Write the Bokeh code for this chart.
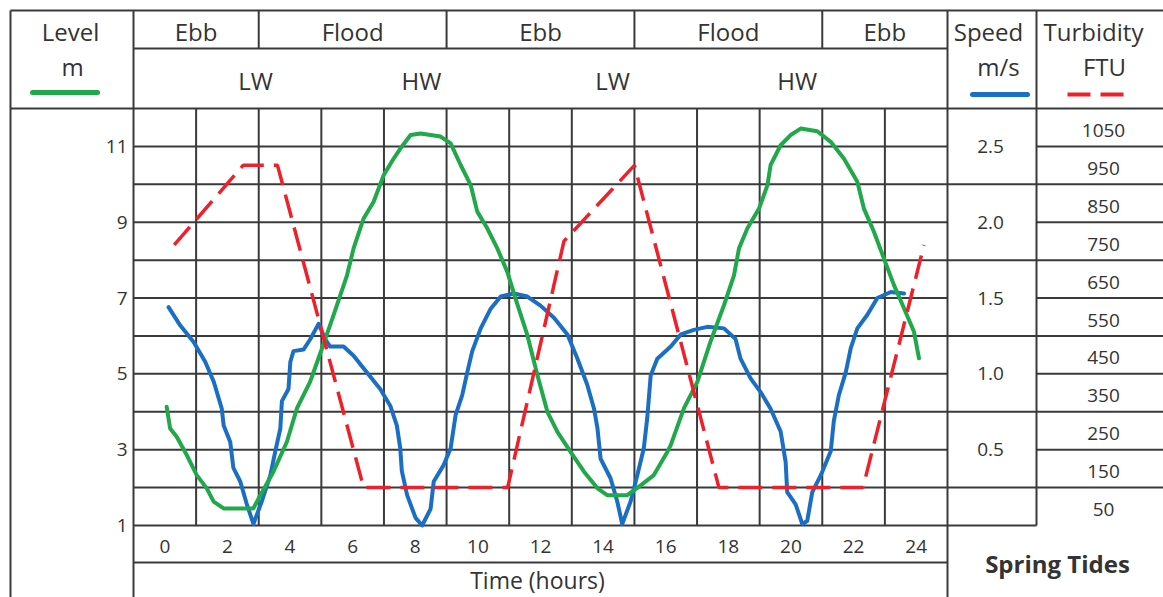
import numpy as np
from bokeh.plotting import figure
from bokeh.models import Range1d, ColumnDataSource
from bokeh.core.properties import value
from bokeh.embed import file_html
from bokeh.resources import INLINE

# ---------------- data ----------------
hour_ticks = [0, 2, 4, 6, 8, 10, 12, 14, 16, 18, 20, 22, 24]
level_ticks = [1, 3, 5, 7, 9, 11]
speed_ticks = [0.5, 1.0, 1.5, 2.0, 2.5]
speed_tick_labels = ["0.5", "1.0", "1.5", "2.0", "2.5"]
turb_ticks = [50, 150, 250, 350, 450, 550, 650, 750, 850, 950, 1050]

phases = ["Ebb", "Flood", "Ebb", "Flood", "Ebb"]
phase_start = [-1, 3, 9, 15, 21]
phase_end = [3, 9, 15, 21, 25]
tide_events = ["LW", "HW", "LW", "HW"]
tide_event_hours = [2.9, 8.2, 14.3, 20.2]

level_hours = [0.06, 0.17, 0.38, 0.70, 1.02, 1.34, 1.56, 1.88, 2.83, 3.05, 3.47, 3.90,
               4.22, 4.64, 5.02, 5.39, 5.82, 6.03, 6.35, 6.67, 6.99, 7.31, 7.53, 7.85,
               8.17, 8.81, 9.13, 9.45, 9.77, 9.98, 10.30, 10.62, 10.94, 11.20, 11.58,
               11.90, 12.22, 12.54, 12.96, 13.39, 13.82, 14.13, 14.77, 15.20, 15.62,
               16.05, 16.16, 16.58, 17.01, 17.43, 17.86, 18.18, 18.34, 18.61, 18.98,
               19.25, 19.35, 19.67, 19.99, 20.31, 20.84, 21.27, 21.69, 22.12, 22.33,
               22.65, 22.97, 23.29, 23.61, 23.93, 24.09]
level_m = [4.13, 3.56, 3.34, 2.86, 2.33, 1.98, 1.63, 1.45, 1.45, 1.80, 2.42, 3.21,
           4.09, 4.79, 5.67, 6.55, 7.60, 8.31, 9.10, 9.54, 10.24, 10.68, 10.95, 11.30,
           11.34, 11.26, 11.08, 10.51, 9.98, 9.28, 8.84, 8.31, 7.69, 6.99, 6.02,
           4.97, 4.00, 3.47, 2.94, 2.42, 1.98, 1.80, 1.80, 2.06, 2.33,
           2.94, 3.12, 4.09, 4.79, 5.85, 6.81, 7.60, 8.31, 8.84, 9.36,
           9.98, 10.51, 11.03, 11.30, 11.47, 11.40, 11.12, 10.68, 10.07, 9.36,
           8.75, 8.04, 7.34, 6.73, 6.11, 5.41]

speed_hours = [0.12, 0.49, 0.92, 1.29, 1.56, 1.82, 1.88, 2.09, 2.19, 2.41, 2.62, 2.83,
               3.10, 3.37, 3.53, 3.69, 3.74, 3.95, 4.01, 4.11, 4.43, 4.65, 4.91, 5.12,
               5.28, 5.71, 6.03, 6.45, 6.88, 7.20, 7.41, 7.52, 7.57, 7.74, 8.01, 8.22,
               8.49, 8.59, 8.91, 9.13, 9.29, 9.50, 9.66, 9.82, 10.09, 10.41, 10.73,
               11.15, 11.58, 12.00, 12.43, 12.86, 13.18, 13.49, 13.71, 13.82, 13.92,
               14.24, 14.45, 14.61, 14.88, 15.09, 15.30, 15.41, 15.52, 15.73, 16.16,
               16.48, 16.90, 17.33, 17.86, 18.23, 18.39, 18.71, 19.03, 19.35, 19.67,
               19.83, 19.88, 20.15, 20.36, 20.52, 20.68, 20.95, 21.27, 21.37, 21.53,
               21.75, 21.91, 22.12, 22.44, 22.76, 23.19, 23.61]
speed_ms = [1.44, 1.32, 1.21, 1.08, 0.95, 0.77, 0.66, 0.55, 0.38, 0.29, 0.14, 0.01,
            0.16, 0.33, 0.49, 0.64, 0.82, 0.90, 1.08, 1.15, 1.16, 1.23, 1.33, 1.23,
            1.18, 1.18, 1.12, 1.01, 0.90, 0.79, 0.66, 0.51, 0.36, 0.20, 0.05, 0.00,
            0.11, 0.29, 0.40, 0.51, 0.73, 0.86, 1.01, 1.15, 1.30, 1.43, 1.51,
            1.53, 1.51, 1.45, 1.37, 1.26, 1.10, 0.93, 0.77, 0.64, 0.44,
            0.31, 0.16, 0.01, 0.16, 0.33, 0.51, 0.71, 0.99, 1.10, 1.18,
            1.26, 1.29, 1.31, 1.30, 1.23, 1.10, 0.97, 0.88, 0.77, 0.62,
            0.42, 0.22, 0.14, 0.01, 0.03, 0.22, 0.33, 0.49, 0.69, 0.86,
            1.01, 1.17, 1.30, 1.39, 1.50, 1.54, 1.53]

turb_hours = [0.3, 2.5, 3.6, 6.35, 10.95, 12.75, 15.0, 17.7, 22.3, 24.25]
turb_ftu = [740, 950, 950, 100, 100, 750, 950, 100, 100, 740]

# ---------------- layout (picture pixels) ----------------
FIG_X, FIG_Y, W, H = 0, 0, 1163, 597
PLOT_L, PLOT_R, PLOT_T, PLOT_B = 133, 947, 108, 525
H_MIN, H_MAX, L_MIN, L_MAX = -1, 25, 1, 12
PXH = (PLOT_R - PLOT_L) / (H_MAX - H_MIN)
PXM = (PLOT_B - PLOT_T) / (L_MAX - L_MIN)
SPEED_PER_M = 0.25      # 0 m/s at level 1, 2.5 m/s at level 11
TURB_PER_M = 100.0      # 0 FTU at level 1, 1000 FTU at level 11


def hx(px):
    return H_MIN + (px - PLOT_L) / PXH


def ly(py):
    return L_MIN + (PLOT_B - py) / PXM


y0, y1 = ly(FIG_Y + H), ly(FIG_Y)
p = figure(width=W, height=H, x_range=Range1d(hx(FIG_X), hx(FIG_X + W)),
           y_range=Range1d(y0, y1), output_backend="svg", toolbar_location=None,
           x_axis_type=None, y_axis_type=None, min_border=0)
p.extra_y_ranges = {
    "speed": Range1d((y0 - L_MIN) * SPEED_PER_M, (y1 - L_MIN) * SPEED_PER_M),
    "turb": Range1d((y0 - L_MIN) * TURB_PER_M, (y1 - L_MIN) * TURB_PER_M),
}
p.grid.visible = False
p.outline_line_color = None
p.background_fill_color = "white"
p.border_fill_color = "white"

LINE_C = "#3a3a3a"
TEXT_C = "#333333"
FONT = value("Open Sans")

# --- table lines (picture px -> data) ---
segs = []
def seg_px(xa, ya, xb, yb):
    segs.append((hx(xa), ly(ya), hx(xb), ly(yb)))

seg_px(10, 10, 1170, 10)
seg_px(PLOT_L, 48, PLOT_R, 48)
seg_px(10, PLOT_T, 1170, PLOT_T)
seg_px(PLOT_L, 562, PLOT_R, 562)
seg_px(10, 10, 10, 600)
seg_px(PLOT_L, 10, PLOT_L, 600)
seg_px(PLOT_R, 10, PLOT_R, 600)
seg_px(1036, 10, 1036, PLOT_B)
seg_px(PLOT_L, PLOT_B, 1036, PLOT_B)
for ph in phase_start[1:]:
    segs.append((ph, ly(10), ph, ly(48)))
for lv in range(2, 12):
    segs.append((H_MIN, lv, H_MAX, lv))
    segs.append((hx(1036), lv, hx(1170), lv))
for lv in range(2, 12, 2):
    segs.append((H_MAX, lv, hx(1036), lv))
for hv in range(1, 25, 2):
    segs.append((hv, L_MIN, hv, L_MAX))
sx0, sy0, sx1, sy1 = zip(*segs)
p.segment(x0=list(sx0), y0=list(sy0), x1=list(sx1), y1=list(sy1),
          line_color=LINE_C, line_width=2)

# --- data lines ---
GREEN, BLUE, RED = "#21a84a", "#1a6fc4", "#f0202a"
p.line(speed_hours, speed_ms, y_range_name="speed", line_color=BLUE, line_width=4,
       line_join="round", line_cap="round")
p.line(level_hours, level_m, line_color=GREEN, line_width=4,
       line_join="round", line_cap="round")
p.line(turb_hours, turb_ftu, y_range_name="turb", line_color=RED, line_width=3.5,
       line_dash="24 10")

# --- legend swatches ---
p.line([hx(32), hx(97)], [ly(92)] * 2, line_color=GREEN, line_width=5, line_cap="round")
p.line([hx(972), hx(1027)], [ly(94)] * 2, line_color=BLUE, line_width=5, line_cap="round")
p.line([hx(1067), hx(1131)], [ly(94)] * 2, line_color=RED, line_width=4, line_dash="23 10")


def txt(xs, ys, labels, size="24px", align="center", style="normal", y_range_name="default",
        x_offset=0, y_offset=0):
    src = ColumnDataSource(dict(x=list(xs), y=list(ys), t=list(labels)))
    p.text(x="x", y="y", text="t", source=src, text_font=FONT, text_font_size=size,
           text_color=TEXT_C, text_align=align, text_baseline="middle",
           text_font_style=style, y_range_name=y_range_name,
           x_offset=x_offset, y_offset=y_offset)

# headers
txt([hx(70), hx(72)], [ly(31), ly(66)], ["Level", "m"])
txt([(a + b) / 2 for a, b in zip(phase_start, phase_end)], [ly(31)] * len(phases), phases)
txt(tide_event_hours, [ly(80)] * len(tide_events), tide_events)
txt([hx(988), hx(998)], [ly(31), ly(66)], ["Speed", "m/s"])
txt([hx(1093), hx(1104)], [ly(31), ly(66)], ["Turbidity", "FTU"])

# tick labels
txt([H_MIN] * len(level_ticks), level_ticks, [str(v) for v in level_ticks], size="19px",
    align="right", x_offset=-6)
txt(hour_ticks, [ly(546)] * len(hour_ticks), [str(v) for v in hour_ticks], size="19px")
txt([hx(990)] * len(speed_ticks), speed_ticks, speed_tick_labels, size="19px",
    y_range_name="speed")
txt([hx(1103)] * len(turb_ticks), turb_ticks, [str(v) for v in turb_ticks], size="19px",
    y_range_name="turb", y_offset=3)

txt([hx(537)], [ly(579)], ["Time (hours)"], size="23px")
txt([hx(1057)], [ly(563)], ["Spring Tides"], style="bold")

open("out.html", "w").write(file_html(p, INLINE))
